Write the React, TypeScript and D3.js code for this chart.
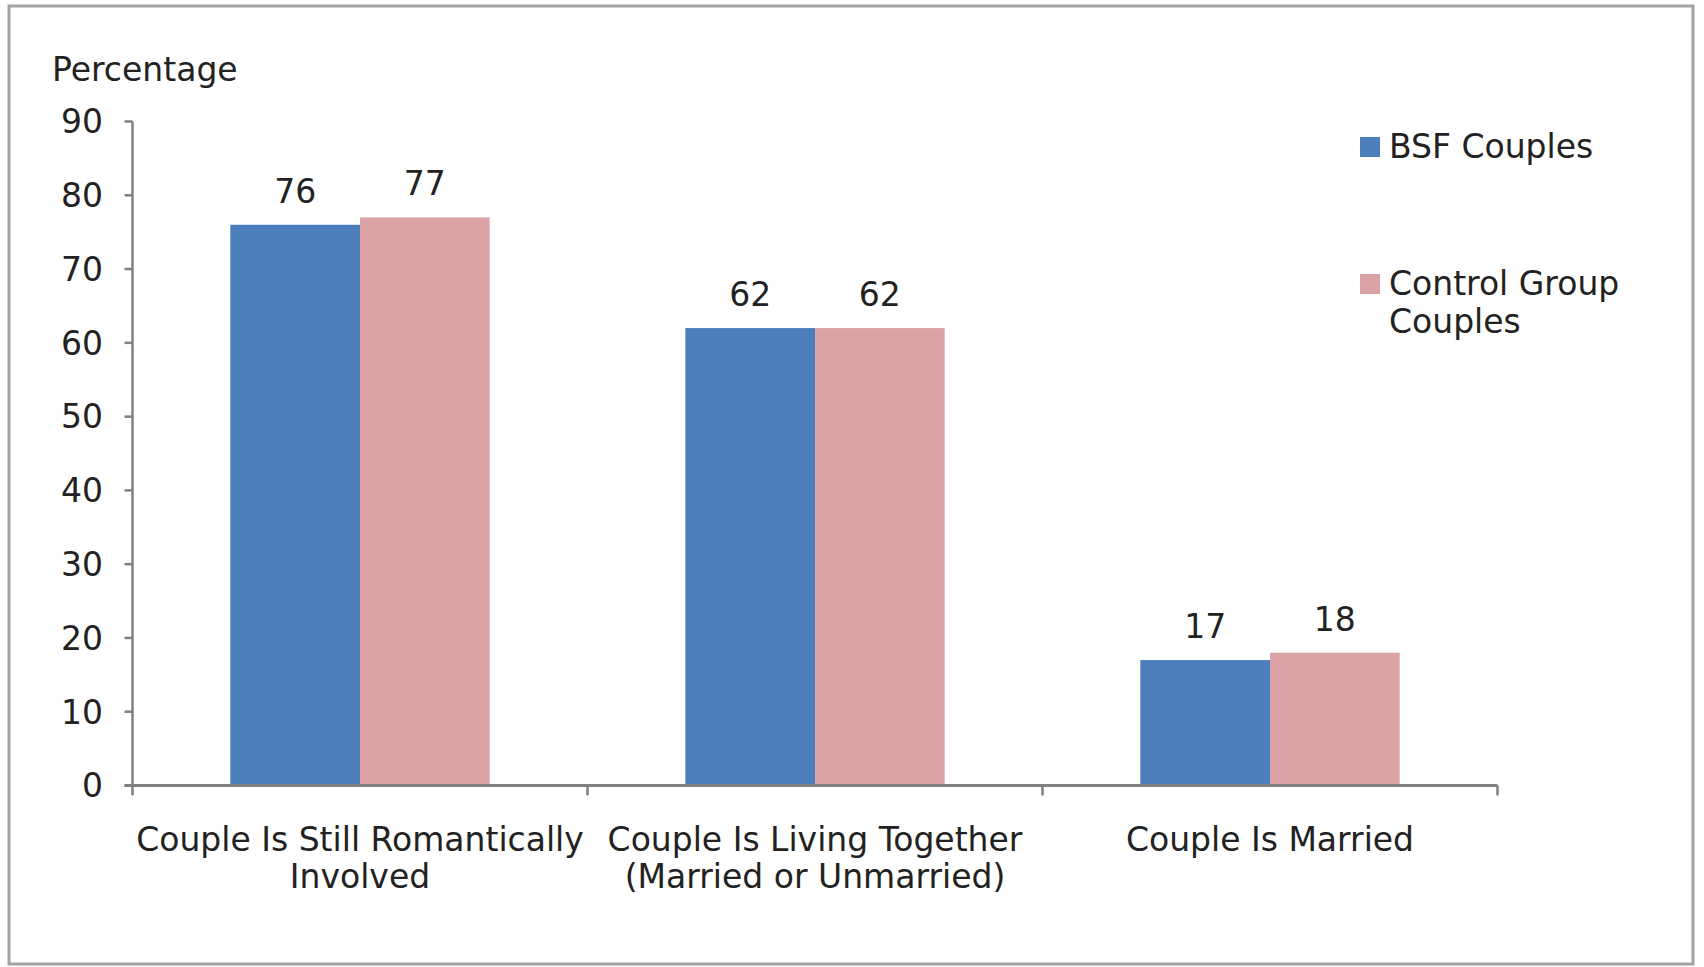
import React from "react";
import * as d3 from "d3";

const categories: string[][] = [
  ["Couple Is Still Romantically", "Involved"],
  ["Couple Is Living Together", "(Married or Unmarried)"],
  ["Couple Is Married"],
];
const categoryKeys = ["romantic", "living", "married"];
const bsfValues = [76, 62, 17];
const controlValues = [77, 62, 18];
const seriesNames = ["BSF Couples", "Control Group", "Couples"];
const yTicks = [0, 10, 20, 30, 40, 50, 60, 70, 80, 90];

const W = 1704;
const H = 967;
const FONT = "'DejaVu Sans', Verdana, sans-serif";
const BLUE = "#4d7ebc";
const PINK = "#dba3a5";
const AXIS = "#808080";
const TEXT = "#222222";

export default function App() {
  const x0 = 132.5;
  const x1 = 1497.5;
  const y = d3.scaleLinear().domain([0, 90]).range([785.5, 121.5]);
  const band = d3.scaleBand<string>().domain(categoryKeys).range([x0, x1]).padding(0);
  const pairFrac = 0.57;
  const bw = band.bandwidth();
  const pairW = bw * pairFrac;
  const inner = d3.scaleBand<string>().domain(["bsf", "ctrl"]).range([0, pairW]).padding(0);
  const fs = 33;

  const series = [
    { key: "bsf", values: bsfValues, color: BLUE },
    { key: "ctrl", values: controlValues, color: PINK },
  ];

  return (
    <svg width={W} height={H} style={{ position: "absolute", left: 0, top: 0, background: "#fff" }}>
      <rect x={0} y={0} width={W} height={H} fill="#fff" />
      <rect x={9} y={6} width={1684} height={958} fill="#fff" stroke="#a3a3a3" strokeWidth={3} />
      <text x={52} y={81} fontFamily={FONT} fontSize={fs} fill={TEXT}>Percentage</text>

      {/* bars */}
      {series.map((s) =>
        s.values.map((v, i) => {
          const bx = (band(categoryKeys[i]) as number) + (bw - pairW) / 2 + (inner(s.key) as number);
          return (
            <g key={s.key + i}>
              <rect x={bx} y={y(v)} width={inner.bandwidth()} height={y(0) - y(v)} fill={s.color} />
              <text x={bx + inner.bandwidth() / 2} y={y(v) - 22} textAnchor="middle"
                fontFamily={FONT} fontSize={fs} fill={TEXT}>{v}</text>
            </g>
          );
        })
      )}

      {/* y axis */}
      <line x1={x0} x2={x0} y1={y(90)} y2={y(0)} stroke={AXIS} strokeWidth={2.5} />
      {yTicks.map((t) => (
        <g key={t}>
          <line x1={x0 - 8} x2={x0} y1={y(t)} y2={y(t)} stroke={AXIS} strokeWidth={2.5} />
          <text x={103} y={y(t)} dy="0.36em" textAnchor="end" fontFamily={FONT} fontSize={fs} fill={TEXT}>{t}</text>
        </g>
      ))}

      {/* x axis */}
      <line x1={x0 - 8} x2={x1} y1={y(0)} y2={y(0)} stroke={AXIS} strokeWidth={3} />
      {[...categoryKeys.map((k) => band(k) as number), x1].map((xx, i) => (
        <line key={i} x1={xx} x2={xx} y1={y(0)} y2={y(0) + 10} stroke={AXIS} strokeWidth={2.5} />
      ))}
      {categories.map((lines, i) => {
        const cx = (band(categoryKeys[i]) as number) + bw / 2;
        return (
          <text key={i} x={cx} textAnchor="middle" fontFamily={FONT} fontSize={fs} fill={TEXT}>
            {lines.map((ln, j) => (
              <tspan key={j} x={cx} y={851 + j * 37}>{ln}</tspan>
            ))}
          </text>
        );
      })}

      {/* legend */}
      <rect x={1360} y={137} width={20} height={20} fill={BLUE} />
      <text x={1389} y={158} fontFamily={FONT} fontSize={fs} fill={TEXT}>{seriesNames[0]}</text>
      <rect x={1360} y={274} width={20} height={20} fill={PINK} />
      <text fontFamily={FONT} fontSize={fs} fill={TEXT}>
        <tspan x={1389} y={295}>{seriesNames[1]}</tspan>
        <tspan x={1389} y={333}>{seriesNames[2]}</tspan>
      </text>
    </svg>
  );
}
